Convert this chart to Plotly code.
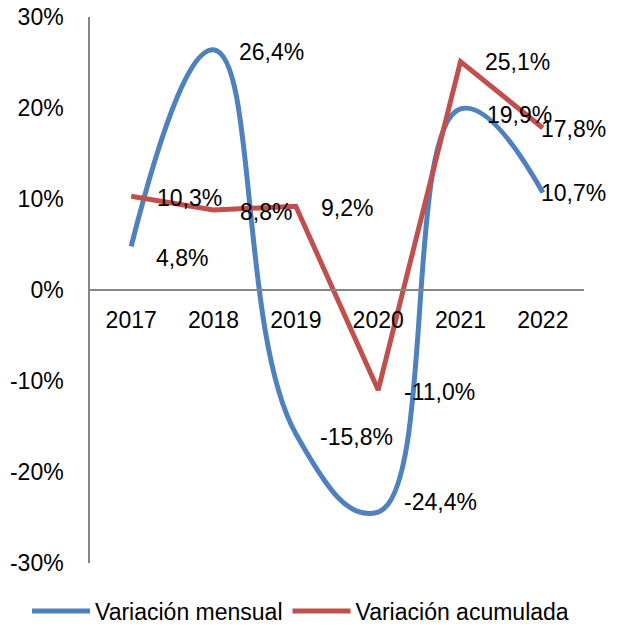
import plotly.graph_objects as go

years = ["2017", "2018", "2019", "2020", "2021", "2022"]
mensual = [4.8, 26.4, -15.8, -24.4, 19.9, 10.7]
acumulada = [10.3, 8.8, 9.2, -11.0, 25.1, 17.8]
y_ticks = [-30, -20, -10, 0, 10, 20, 30]

BLUE = "#4F81BD"
RED = "#C0504D"
FONT = "Liberation Sans, Arial, sans-serif"
FS = 23

def fmt(v):
    return f"{v:.1f}".replace(".", ",") + "%"

fig = go.Figure()
fig.add_trace(go.Scatter(x=years, y=mensual, mode="lines", name="Variación mensual",
                         line=dict(color=BLUE, width=5, shape="spline", smoothing=1.3)))
fig.add_trace(go.Scatter(x=years, y=acumulada, mode="lines", name="Variación acumulada",
                         line=dict(color=RED, width=5)))

# label offsets (pixels) - style only
blue_off = [(23, -12), (23, -2), (22, -3), (24, 10), (24, -6), (-4, 0)]
red_off = [(24, -2), (24, -2), (23, -2), (24, -2), (22, 0), (-4, -1)]

for series, offs in ((mensual, blue_off), (acumulada, red_off)):
    for i, (v, (dx, dy)) in enumerate(zip(series, offs)):
        fig.add_annotation(x=i, y=v, xref="x", yref="y", text=fmt(v), showarrow=False,
                           xanchor="left", yanchor="middle", xshift=dx, yshift=dy,
                           font=dict(family=FONT, size=FS, color="black"))

fig.update_layout(
    width=609, height=618,
    margin=dict(l=82, r=33, t=9, b=63, autoexpand=False),
    plot_bgcolor="white", paper_bgcolor="white",
    font=dict(family=FONT, size=FS, color="black"),
    showlegend=True,
    legend=dict(orientation="h", x=-0.1275, y=-0.0880, xanchor="left", yanchor="middle",
                font=dict(family=FONT, size=FS, color="black"),
                itemwidth=58, tracegroupgap=0, bgcolor="rgba(0,0,0,0)"),
    xaxis=dict(type="category", range=[-0.5, 5.5], anchor="free", position=0.5,
               showline=True, linecolor="#868686", linewidth=1.5, showgrid=False,
               zeroline=False, ticks="", ticklabelstandoff=10,
               tickfont=dict(family=FONT, size=FS, color="black")),
    yaxis=dict(range=[-30, 30], tickvals=y_ticks, ticktext=[f"{v}%" for v in y_ticks],
               showline=True, linecolor="#868686", linewidth=1.5, showgrid=False,
               zeroline=False, ticks="", ticklabelstandoff=20, ticklabeloverflow="allow",
               tickfont=dict(family=FONT, size=FS, color="black")),
)

fig.write_html("out.html")
